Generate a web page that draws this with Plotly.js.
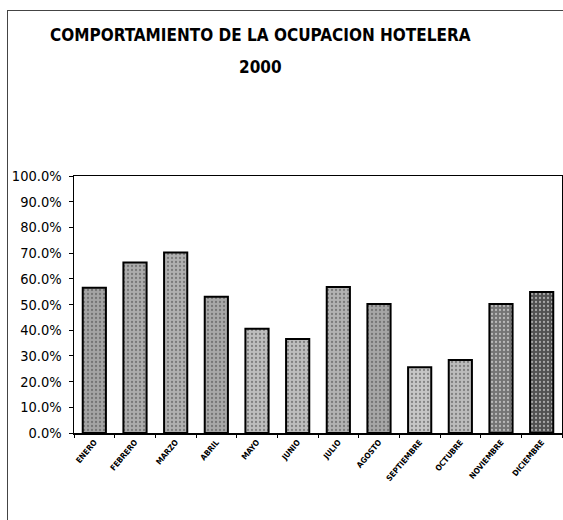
<!DOCTYPE html>
<html>
<head>
<meta charset="utf-8">
<script src="https://cdn.plot.ly/plotly-3.0.1.min.js"></script>
<style>
  html, body { margin: 0; padding: 0; background: #fff; }
  #wrap { position: relative; width: 563px; height: 520px; overflow: hidden; }
  #frame { position: absolute; left: 7px; top: 10px; right: 0; bottom: 0; border-left: 1px solid #444; border-top: 1px solid #444; pointer-events: none; }
  #chart { position: absolute; left: 0; top: 0; width: 563px; height: 520px; }
</style>
</head>
<body>
<div id="wrap">
  <div id="chart"></div>
  <div id="frame"></div>
</div>
<script>
const months = ["ENERO","FEBRERO","MARZO","ABRIL","MAYO","JUNIO","JULIO","AGOSTO","SEPTIEMBRE","OCTUBRE","NOVIEMBRE","DICIEMBRE"];
const occupancy = [0.565, 0.663, 0.702, 0.530, 0.406, 0.366, 0.568, 0.502, 0.256, 0.284, 0.502, 0.549];
const yTicks = [0, 0.1, 0.2, 0.3, 0.4, 0.5, 0.6, 0.7, 0.8, 0.9, 1.0];
const titleLine1 = "COMPORTAMIENTO DE LA OCUPACION HOTELERA";
const titleLine2 = "2000";
const barTones = ["#a4a4a4","#acacac","#b0b0b0","#a8a8a8","#bdbdbd","#bdbdbd","#b2b2b2","#a6a6a6","#c6c6c6","#bcbcbc","#747474","#505050"];

const narrow = "DejaVu Sans Condensed, Liberation Sans Narrow, sans-serif";

const trace = {
  type: "bar",
  x: months,
  y: occupancy,
  marker: {
    color: barTones,
    line: { color: "#000000", width: 2 },
    pattern: { shape: ".", fgcolor: "#202020", size: 4, solidity: 0.25, fillmode: "overlay" }
  },
  hoverinfo: "none"
};

const layout = {
  width: 563, height: 520,
  margin: { l: 74, r: 1, t: 176, b: 87 },
  paper_bgcolor: "#ffffff",
  plot_bgcolor: "#ffffff",
  showlegend: false,
  bargap: 0.43,
  font: { family: narrow, color: "#000" },
  xaxis: {
    type: "category",
    showline: true, linecolor: "#000", linewidth: 1.5, mirror: true,
    ticks: "outside", tickson: "boundaries", ticklen: 3, tickcolor: "#000",
    tickangle: -50,
    tickfont: { family: narrow, size: 8, color: "#000", weight: "bold" },
    showgrid: false, zeroline: false
  },
  yaxis: {
    range: [0, 1],
    tickvals: yTicks,
    tickformat: ".1%",
    showline: true, linecolor: "#000", linewidth: 1.5, mirror: true,
    ticks: "outside", ticklen: 4, tickcolor: "#000",
    ticklabelstandoff: 4,
    tickfont: { family: narrow, size: 14.5, color: "#000" },
    showgrid: false, zeroline: false
  },
  annotations: [
    { text: titleLine1, xref: "paper", yref: "paper", x: 0.382, y: (520 - 35 - 87) / 257, xanchor: "center", yanchor: "middle", showarrow: false,
      font: { family: narrow, size: 17, color: "#000", weight: "bold" } },
    { text: titleLine2, xref: "paper", yref: "paper", x: 0.382, y: (520 - 67 - 87) / 257, xanchor: "center", yanchor: "middle", showarrow: false,
      font: { family: narrow, size: 17, color: "#000", weight: "bold" } }
  ]
};

Plotly.newPlot("chart", [trace], layout, { displayModeBar: false, staticPlot: true });
</script>
</body>
</html>
